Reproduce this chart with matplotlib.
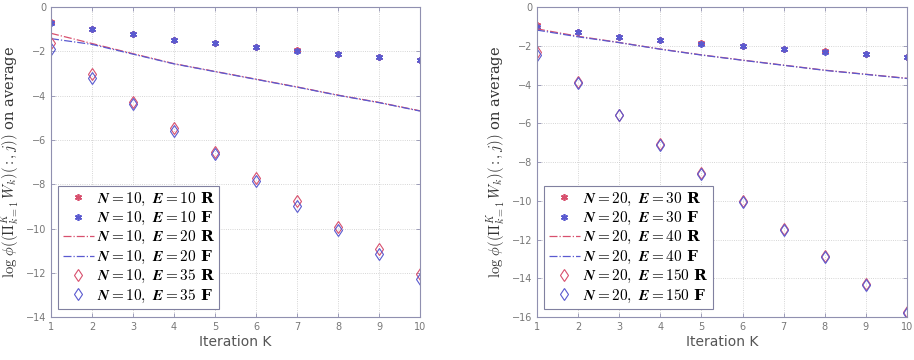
import numpy as np
import matplotlib
matplotlib.use('Agg')
import matplotlib.pyplot as plt

plt.rcParams['mathtext.fontset'] = 'cm'

# iteration index
iters = [1, 2, 3, 4, 5, 6, 7, 8, 9, 10]

# left panel, N = 10
l_e10_r = [-0.68, -0.99, -1.22, -1.46, -1.62, -1.80, -1.95, -2.10, -2.26, -2.38]
l_e10_f = [-0.70, -1.00, -1.23, -1.47, -1.63, -1.81, -1.96, -2.11, -2.27, -2.39]
l_e20_r = [-1.18, -1.64, -2.10, -2.55, -2.90, -3.25, -3.60, -3.97, -4.30, -4.68]
l_e20_f = [-1.42, -1.68, -2.12, -2.56, -2.91, -3.26, -3.61, -3.98, -4.31, -4.69]
l_e35_r = [-1.62, -3.00, -4.28, -5.45, -6.55, -7.70, -8.75, -9.95, -10.90, -12.05]
l_e35_f = [-1.90, -3.20, -4.38, -5.60, -6.65, -7.85, -8.97, -10.05, -11.15, -12.27]

# right panel, N = 20
r_e30_r = [-0.90, -1.26, -1.52, -1.70, -1.87, -2.00, -2.16, -2.28, -2.42, -2.56]
r_e30_f = [-1.04, -1.27, -1.53, -1.71, -1.88, -2.01, -2.17, -2.29, -2.43, -2.57]
r_e40_r = [-1.12, -1.50, -1.82, -2.16, -2.46, -2.73, -2.99, -3.25, -3.46, -3.67]
r_e40_f = [-1.18, -1.53, -1.83, -2.17, -2.47, -2.74, -3.00, -3.26, -3.47, -3.68]
r_e150_r = [-2.30, -3.88, -5.55, -7.07, -8.58, -10.01, -11.44, -12.86, -14.30, -15.73]
r_e150_f = [-2.45, -3.92, -5.59, -7.11, -8.62, -10.05, -11.48, -12.90, -14.34, -15.77]

red = '#d8506e'
blue = '#5a5ad0'
grey = '#777777'


def panel(ax, n, es, series, ymin):
    ax.plot(iters, series[0], ls='none', marker=(6, 2, 0), ms=5, mew=1.2, color=red,
            label=r'$\boldsymbol{N = %d,\ E = %d}$ R' % (n, es[0]))
    ax.plot(iters, series[1], ls='none', marker=(6, 2, 0), ms=5, mew=1.2, color=blue,
            label=r'$\boldsymbol{N = %d,\ E = %d}$ F' % (n, es[0]))
    ax.plot(iters, series[2], ls='-.', lw=0.9, color=red,
            label=r'$\boldsymbol{N = %d,\ E = %d}$ R' % (n, es[1]))
    ax.plot(iters, series[3], ls='-.', lw=0.9, color=blue,
            label=r'$\boldsymbol{N = %d,\ E = %d}$ F' % (n, es[1]))
    ax.plot(iters, series[4], ls='none', marker='d', ms=6, mfc='none', mew=0.8, color=red,
            label=r'$\boldsymbol{N = %d,\ E = %d}$ R' % (n, es[2]))
    ax.plot(iters, series[5], ls='none', marker='d', ms=6, mfc='none', mew=0.8, color=blue,
            label=r'$\boldsymbol{N = %d,\ E = %d}$ F' % (n, es[2]))

    ax.set_xlim(1, 10)
    ax.set_ylim(ymin, 0)
    ax.set_xticks(iters)
    ax.set_yticks(np.arange(ymin, 1, 2))
    ax.tick_params(labelsize=7, labelcolor=grey, color='#9090b0', direction='in',
                   length=3, width=0.6, top=True, right=True)
    for s in ax.spines.values():
        s.set_color('#9090b0')
        s.set_linewidth(0.8)
    ax.grid(True, ls=':', lw=0.6, color='#c8c8c8')
    ax.set_xlabel('Iteration K', fontsize=10, color='#555555', labelpad=2)
    ax.set_ylabel(r'$\log\,\phi((\Pi_{k=1}^{K}\,W_k)(:,j))$ on average',
                  family='serif', fontsize=10.5, color='#333333', labelpad=3)
    leg = ax.legend(loc='lower left', bbox_to_anchor=(0.02, 0.025),
                    prop={'weight': 'bold', 'family': 'serif', 'size': 11},
                    fancybox=False, framealpha=1, edgecolor='#8080a0',
                    handlelength=2.0, handletextpad=0.2, labelspacing=0.15,
                    borderpad=0.3, borderaxespad=0)
    leg.get_frame().set_linewidth(0.8)


fig = plt.figure(figsize=(9.14, 3.6), dpi=100)
ax1 = fig.add_axes([0.0558, 0.119, 0.4037, 0.861])
ax2 = fig.add_axes([0.5875, 0.119, 0.4048, 0.861])

panel(ax1, 10, [10, 20, 35], [l_e10_r, l_e10_f, l_e20_r, l_e20_f, l_e35_r, l_e35_f], -14)
panel(ax2, 20, [30, 40, 150], [r_e30_r, r_e30_f, r_e40_r, r_e40_f, r_e150_r, r_e150_f], -16)

fig.savefig('out.png', dpi=100)
